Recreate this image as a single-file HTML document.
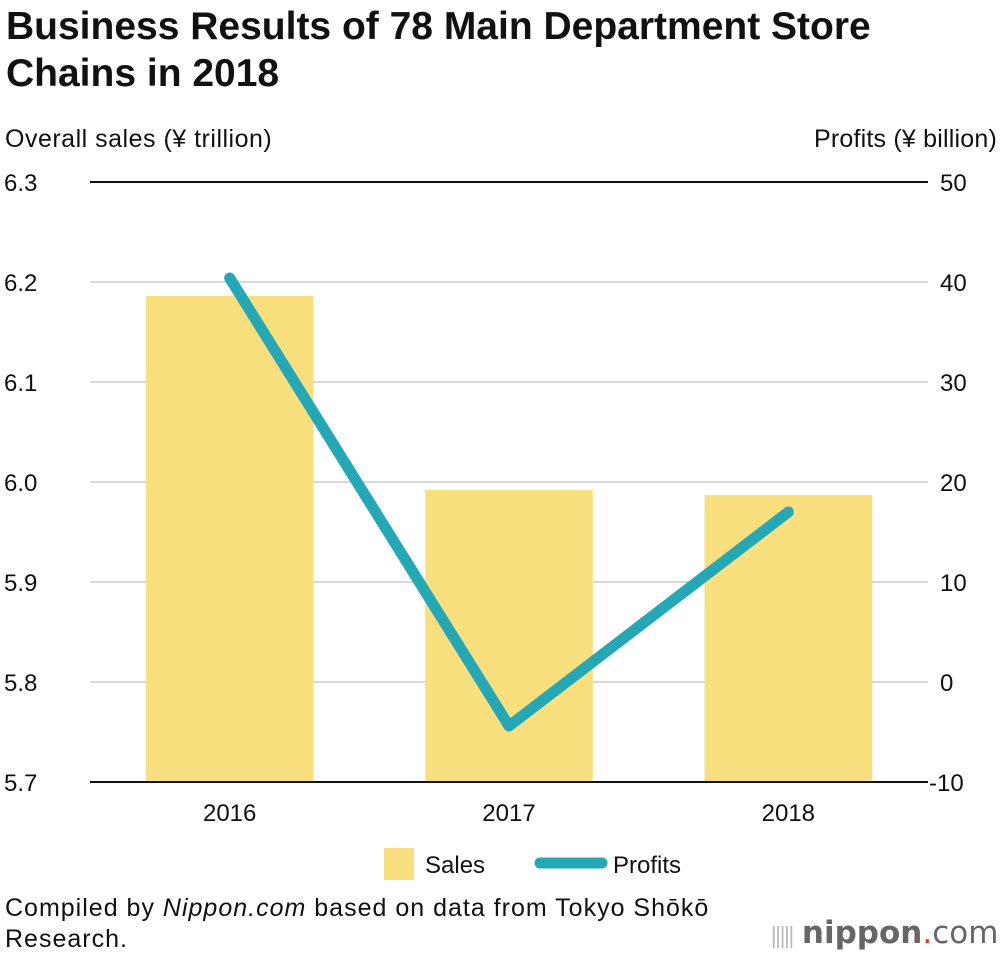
<!DOCTYPE html>
<html><head><meta charset="utf-8"><style>
body{margin:0;width:1000px;height:956px;background:#fff;font-family:"Liberation Sans",sans-serif;overflow:hidden;position:relative}
.t{position:absolute;color:#111}
</style></head><body>
<div class="t" style="left:6px;top:3px;font-size:39px;font-weight:bold;line-height:47px;width:950px">Business Results of 78 Main Department Store<br>Chains in 2018</div>
<div class="t" style="left:5px;top:125px;font-size:25px;letter-spacing:0.5px">Overall sales (¥ trillion)</div>
<div class="t" style="right:3px;top:125px;font-size:25px;letter-spacing:0.2px">Profits (¥ billion)</div>
<svg id="c" width="1000" height="956" style="position:absolute;left:0;top:0"></svg>
<div class="t" style="left:5px;top:893px;font-size:25px;line-height:31px;letter-spacing:1px;white-space:nowrap">Compiled by <i>Nippon.com</i> based on data from Tokyo Shōkō<br>Research.</div>
<div style="position:absolute;left:770px;top:915px;font-size:31px;color:#666;font-family:'DejaVu Sans',sans-serif;white-space:nowrap"><span style="color:#bbb;font-size:22px;letter-spacing:-3px">|||||</span> <b>nippon</b><span style="color:#e33">.</span>com</div>
<script>
const categories=["2016","2017","2018"];
const sales=[6.186,5.992,5.987];
const profits=[40.4,-4.4,17.0];
const leftTicks=[5.7,5.8,5.9,6.0,6.1,6.2,6.3];
const rightTicks=[-10,0,10,20,30,40,50];
const ns="http://www.w3.org/2000/svg",svg=document.getElementById('c');
const X0=90,X1=928,Y0=782,Y1=182;
const yL=v=>Y0-(v-5.7)/0.6*(Y0-Y1);
const yR=v=>Y0-(v+10)/60*(Y0-Y1);
const band=(X1-X0)/categories.length;
const xc=i=>X0+band*(i+0.5);
function mk(t,a,txt){const e=document.createElementNS(ns,t);for(const k in a)e.setAttribute(k,a[k]);if(txt!=null)e.textContent=txt;svg.appendChild(e);return e;}
leftTicks.forEach((v,i)=>{
const y=yL(v);
const g=mk('line',{x1:X0,x2:X1,y1:y,y2:y,stroke:(i==0||i==leftTicks.length-1)?'#111':'#ccc','stroke-width':(i==0||i==leftTicks.length-1)?2:1.5});


const t=mk('text',{x:4,y:y+9,'font-size':24,fill:'#111'},v.toFixed(1));


});
rightTicks.forEach(v=>{
const t=mk('text',{x:v<0?929:940,y:yR(v)+9,'font-size':24,fill:'#111'},String(v));


});
categories.forEach((c,i)=>{
const w=band*0.6,y=yL(sales[i]);
const r=mk('rect',{x:xc(i)-w/2,y:y,width:w,height:Y0-y,fill:'#f9df7d'});


const t=mk('text',{x:xc(i),y:821,'font-size':24,fill:'#111','text-anchor':'middle'},c);


});
const base=mk('line',{x1:X0,x2:X1,y1:Y0,y2:Y0,stroke:'#111','stroke-width':2});


const pl=mk('polyline',{points:profits.map((v,i)=>xc(i)+','+yR(v)).join(' '),fill:'none',stroke:'#25a8b5','stroke-width':11,'stroke-linecap':'round','stroke-linejoin':'round'});


const ls=mk('rect',{x:384,y:848,width:30,height:32,fill:'#f9df7d'});


const lt=mk('text',{x:425,y:873,'font-size':24,fill:'#111'},'Sales');


const lp=mk('line',{x1:540,x2:602,y1:863,y2:863,stroke:'#25a8b5','stroke-width':11,'stroke-linecap':'round'});


const lpt=mk('text',{x:613,y:873,'font-size':24,fill:'#111'},'Profits');


</script>
</body></html>
